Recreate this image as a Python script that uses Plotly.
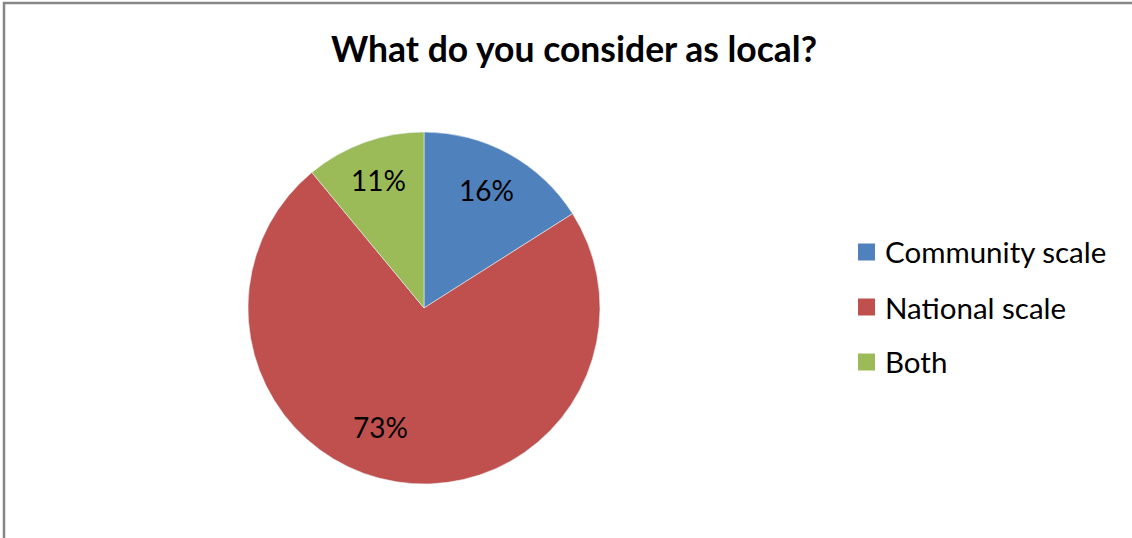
import math
import plotly.graph_objects as go

# Survey answers
categories = ["Community scale", "National scale", "Both"]
shares = [16, 73, 11]
colors = ["#4F81BD", "#C0504D", "#9BBB59"]
title_text = "What do you consider as local?"

W, H = 1132, 538
FONT = "Lato, 'Open Sans', sans-serif"

# pie placement in pixels (center and radius)
cx, cy, R = 424, 308, 176

# where each percentage label sits: radius fraction and angular nudge (deg)
label_radius = [0.76, 0.72, 0.77]
label_nudge = [-1, 11, 0]


def px(x):
    return x / W


def py(y):
    return 1 - y / H


fig = go.Figure()
fig.add_trace(go.Pie(
    labels=categories,
    values=shares,
    marker=dict(colors=colors, line=dict(color="#E8EEF4", width=0.6)),
    sort=False,
    direction="clockwise",
    rotation=0,
    textinfo="none",
    showlegend=False,
    domain=dict(x=[px(cx - R), px(cx + R)], y=[py(cy + R), py(cy - R)]),
    hoverinfo="label+percent",
))

annotations = []
shapes = []

# percentage labels at the middle angle of each slice
total = sum(shares)
start = 0.0
for v, rf, nd in zip(shares, label_radius, label_nudge):
    sweep = 360.0 * v / total
    mid = math.radians(start + sweep / 2 + nd)
    lx = cx + rf * R * math.sin(mid)
    ly = cy - rf * R * math.cos(mid)
    annotations.append(dict(xref="paper", yref="paper", x=px(lx), y=py(ly),
                            xanchor="center", yanchor="middle", showarrow=False,
                            text=f"{round(100 * v / total)}%",
                            font=dict(family=FONT, size=28, color="black")))
    start += sweep

# legend: colour swatches and names
leg_y0, leg_step = 252, 55
for i, (name, col) in enumerate(zip(categories, colors)):
    yc = leg_y0 + i * leg_step
    shapes.append(dict(type="rect", xref="paper", yref="paper",
                       x0=px(858), x1=px(875), y0=py(yc + 8.5), y1=py(yc - 8.5),
                       fillcolor=col, line=dict(width=0)))
    annotations.append(dict(xref="paper", yref="paper", x=px(883), y=py(yc),
                            xanchor="left", yanchor="middle", showarrow=False,
                            text=name, font=dict(family=FONT, size=29.5, color="black")))

# outer chart frame
shapes.append(dict(type="rect", xref="paper", yref="paper",
                   x0=px(4), x1=px(W + 20), y0=py(H + 20), y1=py(3),
                   line=dict(color="#878787", width=2.5), fillcolor="rgba(0,0,0,0)"))

fig.update_layout(
    width=W, height=H,
    margin=dict(l=0, r=0, t=0, b=0),
    paper_bgcolor="white",
    plot_bgcolor="white",
    title=dict(text="<b>" + title_text + "</b>", x=px(574), xanchor="center",
               y=py(50), yanchor="middle",
               font=dict(family=FONT, size=35.5, color="black")),
    shapes=shapes,
    annotations=annotations,
)

fig.write_html("out.html")
